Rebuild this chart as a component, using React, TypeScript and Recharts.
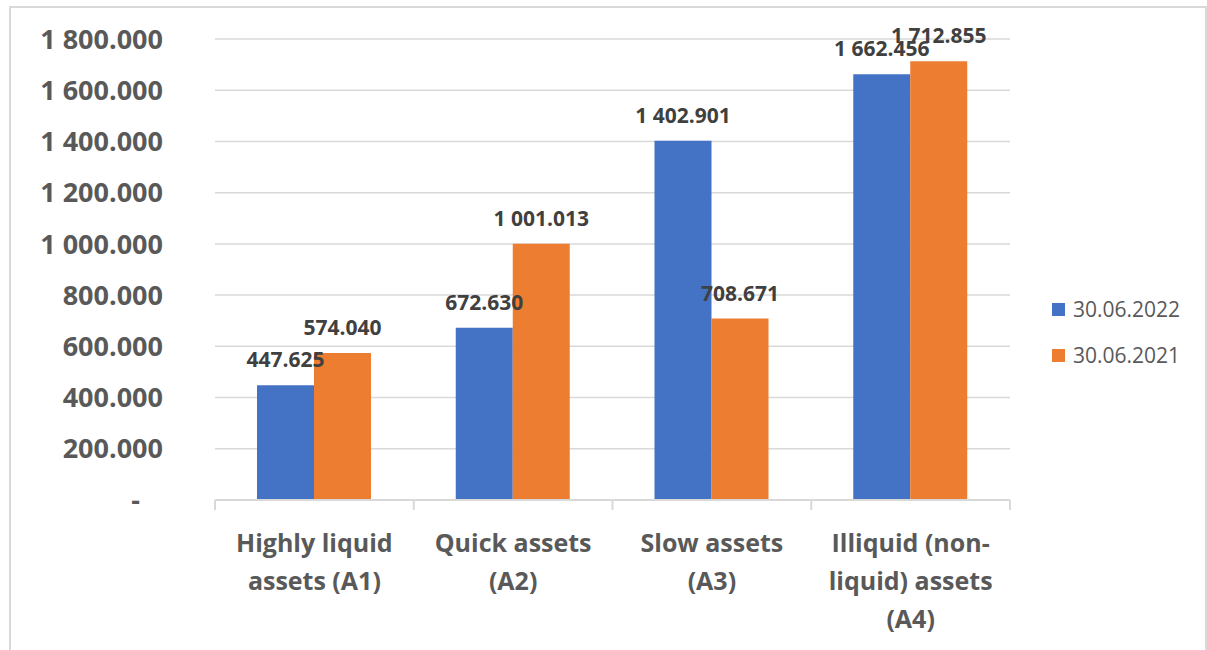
import React from "react";
import { BarChart, Bar, XAxis, YAxis, CartesianGrid, LabelList } from "recharts";

const categories = [
  "Highly liquid assets (A1)",
  "Quick assets (A2)",
  "Slow assets (A3)",
  "Illiquid (non-liquid) assets (A4)",
];
const categoryLines: string[][] = [
  ["Highly liquid", "assets (A1)"],
  ["Quick assets", "(A2)"],
  ["Slow assets", "(A3)"],
  ["Illiquid (non-", "liquid) assets", "(A4)"],
];
const series2022 = [447.625, 672.63, 1402.901, 1662.456];
const series2021 = [574.04, 1001.013, 708.671, 1712.855];
const seriesNames = ["30.06.2022", "30.06.2021"];
const seriesColors = ["#4472C4", "#ED7D31"];
const yTicks = [0, 200, 400, 600, 800, 1000, 1200, 1400, 1600, 1800];

const data = categories.map((c, i) => ({
  name: c,
  v2022: series2022[i],
  v2021: series2021[i],
}));

const W = 1207;
const H = 650;
const X_HEIGHT = 30;
const MARGIN = { top: 39, right: 197, bottom: 150 - X_HEIGHT, left: 0 };
const Y_WIDTH = 215;
const AXIS_Y = H - MARGIN.bottom - X_HEIGHT;
const PLOT_W = W - MARGIN.right - MARGIN.left - Y_WIDTH;
const BAND = PLOT_W / categories.length;
const FONT = "'Open Sans', 'DejaVu Sans', sans-serif";

function fmt(v: number, sep = " "): string {
  if (v === 0) return "-";
  const s = v.toFixed(3);
  const [int, dec] = s.split(".");
  const grouped = int.replace(/\B(?=(\d{3})+(?!\d))/g, sep);
  return `${grouped}.${dec}`;
}

const YTick = (props: any) => {
  const { x, y, payload } = props;
  const isZero = payload.value === 0;
  return (
    <text
      x={isZero ? x - 23 : x}
      y={y}
      dy="0.36em"
      textAnchor="end"
      fontFamily={FONT}
      fontWeight={700}
      fontSize={27}
      fill="#595959"
    >
      {fmt(payload.value)}
    </text>
  );
};

const XTick = (props: any) => {
  const { x, payload, index } = props;
  const lines: string[] = categoryLines[index] || [payload.value];
  return (
    <g>
      <line x1={x - BAND / 2} x2={x - BAND / 2} y1={AXIS_Y} y2={AXIS_Y + 10} stroke="#d9d9d9" strokeWidth={2} />
      {index === categories.length - 1 && (
        <line x1={x + BAND / 2} x2={x + BAND / 2} y1={AXIS_Y} y2={AXIS_Y + 10} stroke="#d9d9d9" strokeWidth={2} />
      )}
      <text textAnchor="middle" fontFamily={FONT} fontWeight={700} fontSize={25} fill="#595959">
        {lines.map((l, i) => (
          <tspan key={i} x={x} y={AXIS_Y + 52 + i * 38}>
            {l}
          </tspan>
        ))}
      </text>
    </g>
  );
};

const labelStyle = { fontFamily: FONT, fontWeight: 700, fontSize: 21, fill: "#404040" };

export default function App() {
  return (
    <div style={{ position: "absolute", left: 0, top: 0, width: W, height: H, overflow: "hidden", background: "#fff" }}>
      <div
        style={{
          position: "absolute",
          left: 9,
          top: 6,
          width: 1198,
          height: 700,
          border: "2px solid #d9d9d9",
          boxSizing: "border-box",
        }}
      />
      <div style={{ position: "absolute", left: 0, top: 0 }}>
        <BarChart width={W} height={H} data={data} margin={MARGIN} barGap={0} barSize={57}>
          <CartesianGrid vertical={false} stroke="#d9d9d9" strokeWidth={1.5} />
          <XAxis
            dataKey="name"
            interval={0}
            height={X_HEIGHT}
            axisLine={{ stroke: "#d9d9d9", strokeWidth: 2 }}
            tickLine={false}
            tick={<XTick />}
          />
          <YAxis
            width={Y_WIDTH}
            domain={[0, 1800]}
            ticks={yTicks}
            interval={0}
            axisLine={false}
            tickLine={false}
            tickSize={0}
            tickMargin={52}
            tick={<YTick />}
          />
          <Bar dataKey="v2022" name={seriesNames[0]} fill={seriesColors[0]} isAnimationActive={false}>
            <LabelList
              dataKey="v2022"
              position="top"
              offset={18}
              formatter={(v: any) => fmt(Number(v), "\u00A0")}
              style={labelStyle}
            />
          </Bar>
          <Bar dataKey="v2021" name={seriesNames[1]} fill={seriesColors[1]} isAnimationActive={false}>
            <LabelList
              dataKey="v2021"
              position="top"
              offset={18}
              formatter={(v: any) => fmt(Number(v), "\u00A0")}
              style={labelStyle}
            />
          </Bar>
        </BarChart>
      </div>
      {seriesNames.map((n, i) => (
        <div
          key={n}
          style={{
            position: "absolute",
            left: 1052,
            top: 294 + i * 46,
            height: 30,
            display: "flex",
            alignItems: "center",
            fontFamily: FONT,
            fontSize: 21,
            color: "#595959",
            whiteSpace: "nowrap",
          }}
        >
          <span style={{ display: "inline-block", width: 13, height: 13, background: seriesColors[i], marginRight: 8 }} />
          <span>{n}</span>
        </div>
      ))}
    </div>
  );
}
